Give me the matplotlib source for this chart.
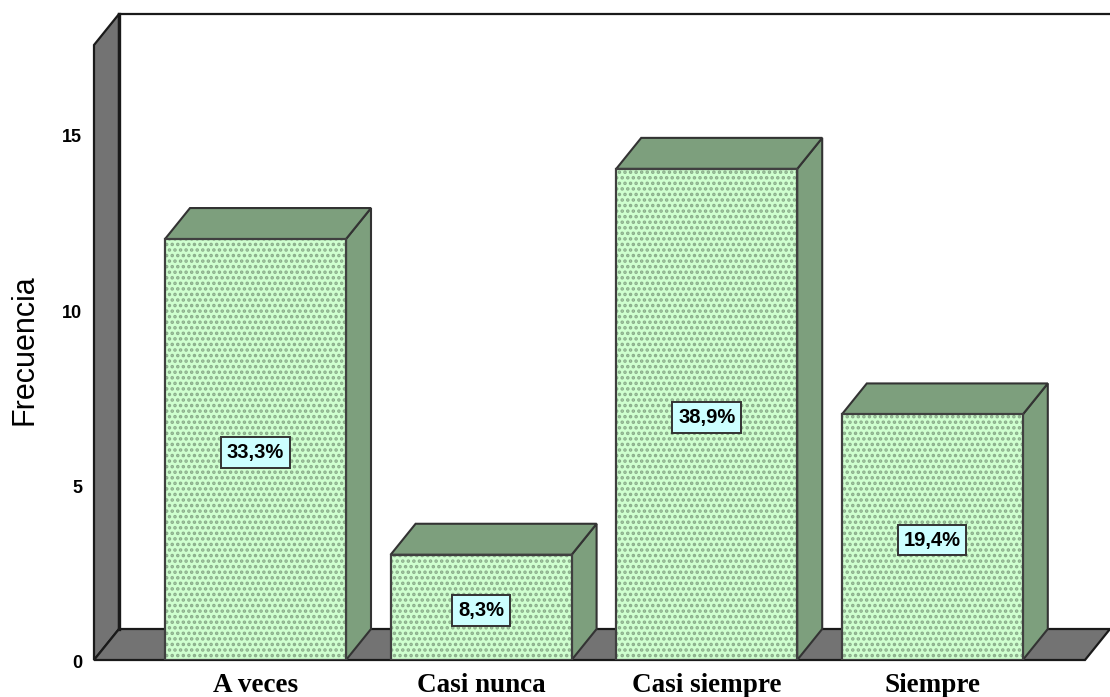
#!/usr/bin/env python
# -*- coding: utf-8 -*-
import matplotlib
matplotlib.use("Agg")
import matplotlib.pyplot as plt
from matplotlib.patches import Polygon, Rectangle
from matplotlib.transforms import ScaledTranslation

categories = ["A veces", "Casi nunca", "Casi siempre", "Siempre"]
frecuencia = [12, 3, 14, 7]
porcentajes = ["33,3%", "8,3%", "38,9%", "19,4%"]
y_ticks = [0, 5, 10, 15]

W, H = 1110, 697
plt.rcParams["hatch.linewidth"] = 1.7
plt.rcParams["hatch.color"] = "#8AAC8A"

fig = plt.figure(figsize=(W / 100, H / 100), dpi=100, facecolor="white")
# axes box is the plot area in pixels: front left of floor to back top right
ax = fig.add_axes([94 / W, 1 - 660 / H, (W - 94) / W, (660 - 14) / H])

px_x = 225.6  # pixels per category
px_y = 35.08  # pixels per count
ax.set_xlim((94 - 255.5) / px_x, (W - 255.5) / px_x)
ax.set_ylim(0, 646 / px_y)
dx = 25 / px_x  # depth of the 3D effect
dy = 31 / px_y
ymax = ax.get_ylim()[1]
xmin, xmax = ax.get_xlim()

EDGE = "#1a1a1a"
WALL = "#737373"
SIDE = "#7D9F7D"
FACE = "#CFFFCF"

# left wall and floor
ax.add_patch(Polygon([(xmin, 0), (xmin + dx, dy), (xmin + dx, ymax), (xmin, ymax - dy)],
                     closed=True, fc=WALL, ec=EDGE, lw=1.6, clip_on=False, zorder=1))
ax.add_patch(Polygon([(xmin, 0), (xmin + dx, dy), (xmax, dy), (xmax - dx, 0)],
                     closed=True, fc=WALL, ec=EDGE, lw=1.6, clip_on=False, zorder=1))
ax.plot([xmin + dx, xmax], [ymax, ymax], color=EDGE, lw=1.6, clip_on=False, zorder=1)
ax.plot([xmin + dx, xmin + dx], [dy, ymax], color=EDGE, lw=2.4, clip_on=False, zorder=1)

# bars
bar_w = 181 / px_x
for i, v in enumerate(frecuencia):
    x0 = i - bar_w / 2
    x1 = i + bar_w / 2
    ax.add_patch(Polygon([(x1, 0), (x1 + dx, dy), (x1 + dx, v + dy), (x1, v)],
                         closed=True, fc=SIDE, ec="#333333", lw=1.5, zorder=2))
    ax.add_patch(Polygon([(x0, v), (x0 + dx, v + dy), (x1 + dx, v + dy), (x1, v)],
                         closed=True, fc=SIDE, ec="#333333", lw=1.5, zorder=2))
    ax.add_patch(Rectangle((x0, 0), bar_w, v, fc=FACE, hatch="...",
                           ec="#8AAC8A", lw=0, zorder=3))
    ax.add_patch(Rectangle((x0, 0), bar_w, v, fill=False, ec="#404040", lw=1.6, zorder=4))
    ax.annotate(porcentajes[i], (i, v / 2), xytext=(0, -2.2), textcoords="offset points",
                ha="center", va="center", zorder=5,
                fontsize=14.5, fontweight="bold", family="Liberation Sans",
                bbox=dict(boxstyle="square,pad=0.28", fc="#CCFFFF", ec="#333333", lw=1.4))

for s in ax.spines.values():
    s.set_visible(False)
ax.patch.set_visible(False)

ax.set_yticks(y_ticks)
ax.set_yticklabels(y_ticks, fontsize=13, fontweight="bold", family="Liberation Sans")
ax.tick_params(axis="y", length=0, pad=8.6)
# labels in the reference sit a little lower than the tick position
shift = ScaledTranslation(0, -2 / 100, fig.dpi_scale_trans)
for lab in ax.get_yticklabels():
    lab.set_transform(lab.get_transform() + shift)
ax.set_xticks(range(len(categories)))
ax.set_xticklabels(categories, fontsize=19.5, fontweight="bold", family="Liberation Serif")
ax.tick_params(axis="x", length=0, pad=9)
fig.text(24.5 / W, 1 - 350 / H, "Frecuencia", rotation=90, ha="center", va="center",
         fontsize=22, family="Liberation Sans")

fig.savefig("out.png", dpi=100)
